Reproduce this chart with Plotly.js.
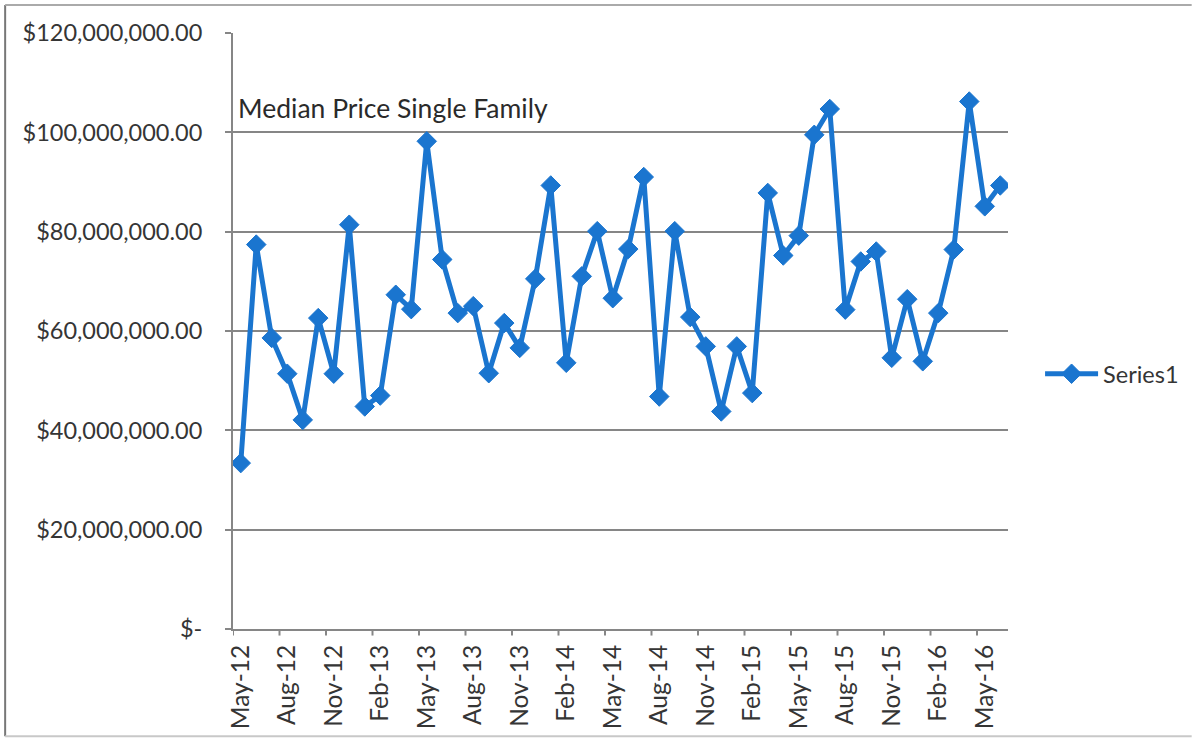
<!DOCTYPE html>
<html>
<head>
<meta charset="utf-8">
<script src="https://cdn.plot.ly/plotly-3.0.1.min.js"></script>
<style>html,body{margin:0;padding:0;background:#fff;}#chart{width:1197px;height:742px;}</style>
</head>
<body>
<div id="chart"></div>
<script>
var months = ["May-12","Jun-12","Jul-12","Aug-12","Sep-12","Oct-12","Nov-12","Dec-12","Jan-13","Feb-13","Mar-13","Apr-13",
  "May-13","Jun-13","Jul-13","Aug-13","Sep-13","Oct-13","Nov-13","Dec-13","Jan-14","Feb-14","Mar-14","Apr-14",
  "May-14","Jun-14","Jul-14","Aug-14","Sep-14","Oct-14","Nov-14","Dec-14","Jan-15","Feb-15","Mar-15","Apr-15",
  "May-15","Jun-15","Jul-15","Aug-15","Sep-15","Oct-15","Nov-15","Dec-15","Jan-16","Feb-16","Mar-16","Apr-16",
  "May-16","Jun-16"];
var series1 = [33.4,77.4,58.6,51.4,42.1,62.6,51.4,81.4,44.8,47.0,67.3,64.4,
  98.2,74.4,63.6,65.0,51.5,61.6,56.6,70.5,89.3,53.6,71.0,80.1,
  66.6,76.5,91.0,46.8,80.1,62.8,56.9,43.8,56.9,47.5,87.8,75.2,
  79.2,99.5,104.7,64.3,74.0,76.0,54.6,66.4,53.9,63.6,76.4,106.2,
  85.1,89.3].map(function(v){return v*1e6;});
var yTickVals = [0,20e6,40e6,60e6,80e6,100e6,120e6];
var yTickText = ["$-","$20,000,000.00","$40,000,000.00","$60,000,000.00","$80,000,000.00","$100,000,000.00","$120,000,000.00"];
var chartTitle = "Median Price Single Family";
var seriesName = "Series1";

var xIdx = months.map(function(_, i){return i;});
var xTickVals = xIdx.filter(function(i){return i % 3 === 0;});
var xTickText = xTickVals.map(function(i){return months[i];});

var blue = "#1a75cf";
var grid = "#868686";
var txt = "#353535";
var font = "Lato, 'Open Sans', sans-serif";

var trace = {
  x: xIdx, y: series1, type: "scatter", mode: "lines+markers", name: seriesName,
  line: {color: blue, width: 5},
  marker: {symbol: "diamond", size: 15, color: blue, line: {color: blue, width: 1}}
};

var layout = {
  width: 1197, height: 742,
  margin: {l: 233, r: 189, t: 33, b: 113, pad: 0, autoexpand: false},
  paper_bgcolor: "#fff", plot_bgcolor: "#fff",
  font: {family: font, color: txt, size: 22},
  showlegend: true,
  legend: {xref: "container", yref: "container", x: 0.8689, y: 0.496, xanchor: "left", yanchor: "middle",
    font: {family: font, size: 23.5, color: txt}, itemwidth: 53, bgcolor: "rgba(0,0,0,0)"},
  xaxis: {
    type: "linear", range: [-0.5, 49.5], fixedrange: true, automargin: false,
    tickmode: "array", tickvals: xTickVals, ticktext: xTickText, tickangle: -90,
    showgrid: false, zeroline: false, showline: true, linecolor: grid, linewidth: 2,
    ticks: "", ticklabelstandoff: 4, tickfont: {family: font, size: 24.5, color: txt}
  },
  yaxis: {
    range: [0, 120e6], fixedrange: true, automargin: false,
    tickmode: "array", tickvals: yTickVals, ticktext: yTickText,
    showgrid: true, gridcolor: grid, gridwidth: 2, zeroline: false,
    showline: true, linecolor: grid, linewidth: 2,
    ticks: "outside", ticklen: 6, tickcolor: grid, tickwidth: 2,
    ticklabelstandoff: 18,
    tickfont: {family: font, size: 23.5, color: txt}
  },
  annotations: [{
    text: chartTitle, xref: "paper", yref: "y", x: 0.004, y: 105e6, xanchor: "left", yanchor: "middle",
    showarrow: false, font: {family: font, size: 26.5, color: "#2a2a2a"}
  }],
  shapes: []
};

// x-axis tick marks at category boundaries (every 3 months)
xTickVals.forEach(function(v){
  layout.shapes.push({type: "line", xref: "x", yref: "paper", x0: v - 0.5, x1: v - 0.5, y0: 0, y1: -0.011,
    line: {color: grid, width: 2}});
});
// outer chart border
layout.shapes.push({type: "line", xref: "paper", yref: "paper", x0: -0.294, x1: -0.294, y0: -0.180, y1: 1.047, line: {color: "#777", width: 2}});
layout.shapes.push({type: "line", xref: "paper", yref: "paper", x0: -0.294, x1: 1.237, y0: 1.047, y1: 1.047, line: {color: "#aaa", width: 2}});
layout.shapes.push({type: "line", xref: "paper", yref: "paper", x0: -0.294, x1: 1.237, y0: -0.180, y1: -0.180, line: {color: "#c8c8c8", width: 2}});

Plotly.newPlot("chart", [trace], layout, {displayModeBar: false, staticPlot: true});
</script>
</body>
</html>
